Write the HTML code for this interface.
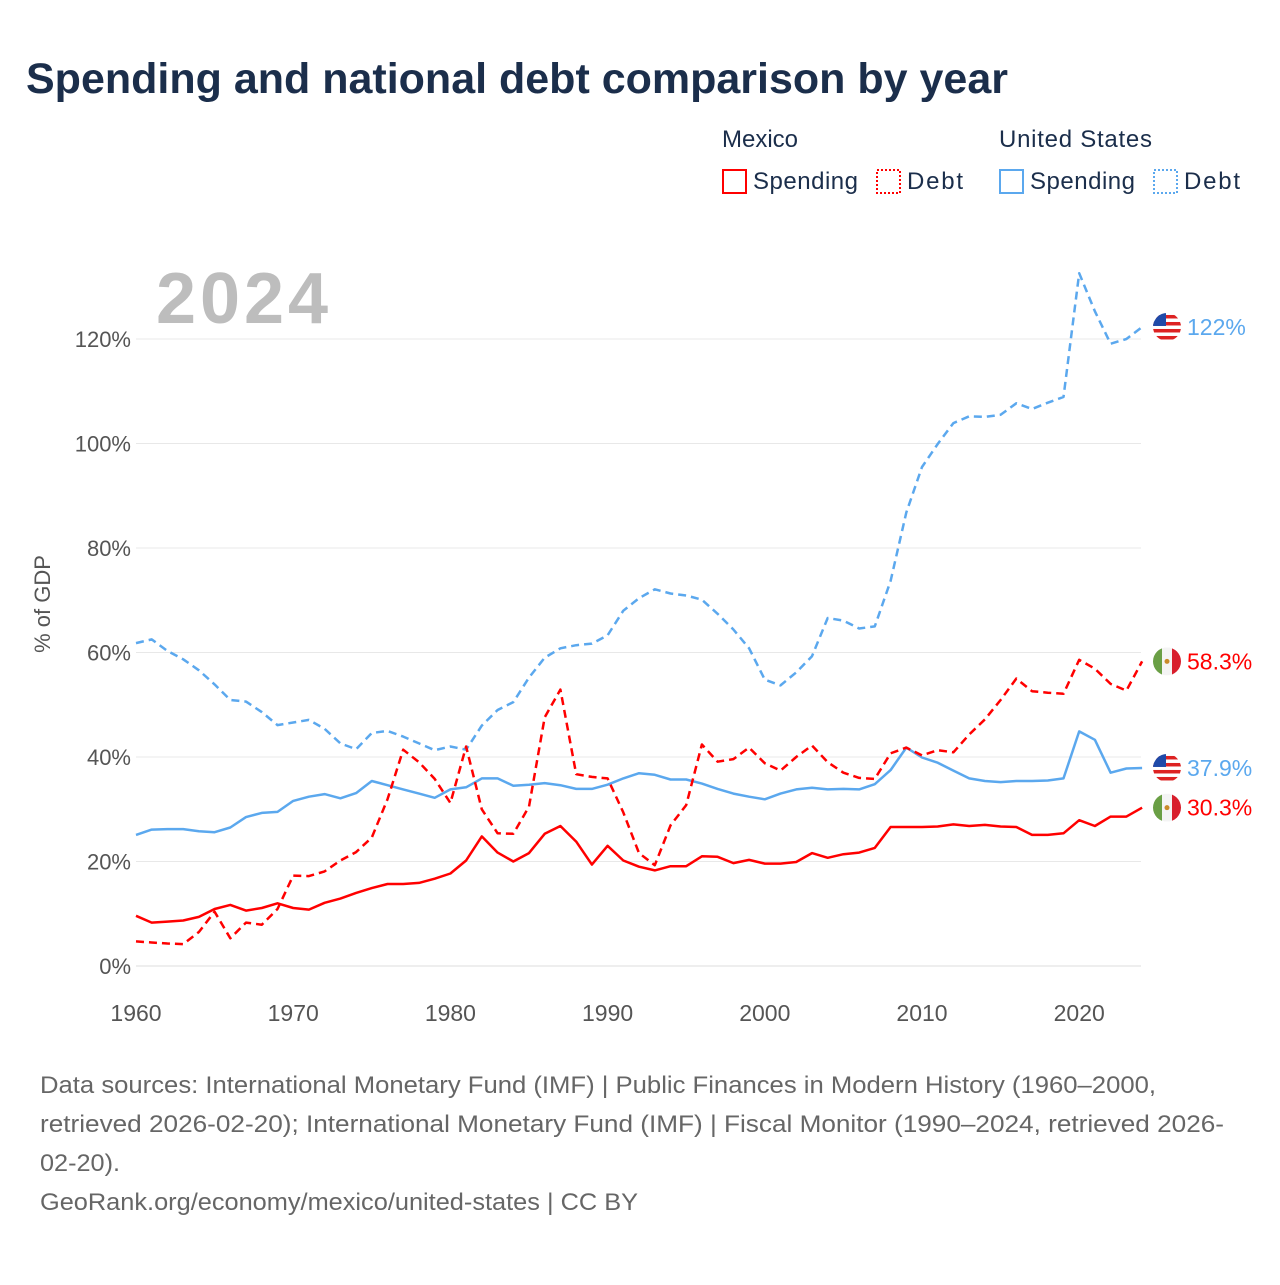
<!DOCTYPE html>
<html><head><meta charset="utf-8"><style>
body{margin:0;background:#fff;font-family:"Liberation Sans",sans-serif;}
svg text{font-family:"Liberation Sans",sans-serif;}
</style></head><body>
<svg id="chart" width="1280" height="1280" viewBox="0 0 1280 1280">
<text x="26" y="93" font-size="43" font-weight="bold" fill="#1b2e4b" textLength="982" lengthAdjust="spacingAndGlyphs">Spending and national debt comparison by year</text>
<g>
<text x="722" y="147" font-size="24" fill="#1b2e4b">Mexico</text>
<text x="999" y="147" font-size="24" fill="#1b2e4b" textLength="153">United States</text>
<rect x="723" y="170" width="23" height="23" fill="none" stroke="#f00" stroke-width="2"/>
<text x="753" y="189" font-size="24" fill="#1b2e4b" textLength="105">Spending</text>
<rect x="877" y="170" width="23" height="23" fill="none" stroke="#f00" stroke-width="2" stroke-dasharray="2,2"/>
<text x="907" y="189" font-size="24" fill="#1b2e4b" textLength="56">Debt</text>
<rect x="1000" y="170" width="23" height="23" fill="none" stroke="#5ba8ee" stroke-width="2"/>
<text x="1030" y="189" font-size="24" fill="#1b2e4b" textLength="105">Spending</text>
<rect x="1154" y="170" width="23" height="23" fill="none" stroke="#5ba8ee" stroke-width="2" stroke-dasharray="2,2"/>
<text x="1184" y="189" font-size="24" fill="#1b2e4b" textLength="56">Debt</text>
</g>
<text x="156" y="323" font-size="72" font-weight="bold" fill="#bdbdbd" textLength="172">2024</text>
<text transform="translate(50,604) rotate(-90)" text-anchor="middle" font-size="22" fill="#555">% of GDP</text>
<g id="grid"></g><g id="series"></g><g id="ends"></g>
<g font-size="24" fill="#666">
<text x="40" y="1093" textLength="1116" lengthAdjust="spacingAndGlyphs">Data sources: International Monetary Fund (IMF) | Public Finances in Modern History (1960–2000,</text>
<text x="40" y="1132" textLength="1184" lengthAdjust="spacingAndGlyphs">retrieved 2026-02-20); International Monetary Fund (IMF) | Fiscal Monitor (1990–2024, retrieved 2026-</text>
<text x="40" y="1171" textLength="80" lengthAdjust="spacingAndGlyphs">02-20).</text>
<text x="40" y="1210" textLength="598" lengthAdjust="spacingAndGlyphs">GeoRank.org/economy/mexico/united-states | CC BY</text>
</g>
</svg>
<script>
const years=[];for(let y=1960;y<=2024;y++)years.push(y);
const mxSpending=[9.6,8.3,8.5,8.7,9.4,10.9,11.7,10.6,11.1,12.0,11.1,10.8,12.1,12.9,14.0,14.9,15.7,15.7,15.9,16.7,17.7,20.2,24.8,21.7,20.0,21.6,25.3,26.8,23.8,19.4,23.0,20.2,19.0,18.3,19.1,19.1,21.0,20.9,19.7,20.3,19.6,19.6,19.9,21.6,20.7,21.4,21.7,22.6,26.6,26.6,26.6,26.7,27.1,26.8,27.0,26.7,26.6,25.1,25.1,25.4,27.9,26.8,28.6,28.6,30.3];
const mxDebt=[4.7,4.5,4.3,4.2,6.5,10.4,5.3,8.3,7.9,10.9,17.3,17.2,18.1,20.2,21.8,24.6,31.9,41.4,39.0,35.8,31.2,42.0,30.0,25.4,25.3,30.5,47.6,52.9,36.7,36.2,35.9,29.4,21.6,19.3,26.9,30.8,42.4,39.1,39.6,41.8,38.8,37.4,40.0,42.2,39.0,37.0,36.0,35.8,40.7,41.8,40.3,41.3,40.9,44.3,47.2,50.9,55.0,52.6,52.3,52.1,58.6,56.9,54.0,52.7,58.3];
const usSpending=[25.1,26.1,26.2,26.2,25.8,25.6,26.5,28.5,29.3,29.5,31.6,32.4,32.9,32.1,33.1,35.4,34.6,33.8,33.0,32.2,33.8,34.2,35.9,35.9,34.5,34.7,35.0,34.6,33.9,33.9,34.7,35.9,36.9,36.6,35.7,35.7,34.9,33.9,33.0,32.4,31.9,33.0,33.8,34.1,33.8,33.9,33.8,34.8,37.5,41.8,39.9,38.9,37.4,35.9,35.4,35.2,35.4,35.4,35.5,35.9,44.9,43.3,37.0,37.8,37.9];
const usDebt=[61.8,62.5,60.3,58.7,56.6,53.9,50.9,50.6,48.6,46.1,46.6,47.1,45.4,42.6,41.5,44.6,45.0,43.9,42.6,41.3,42.0,41.4,46.0,49.0,50.5,55.2,59.0,60.8,61.4,61.7,63.3,68.0,70.4,72.1,71.3,70.9,70.1,67.4,64.4,60.8,54.8,53.7,56.2,59.3,66.6,66.1,64.6,65.0,73.7,86.8,95.5,99.9,103.9,105.2,105.1,105.5,107.7,106.6,107.8,108.9,132.6,125.3,119.1,120.0,122.3];
const yTicks=[0,20,40,60,80,100,120];
const xTicks=[1960,1970,1980,1990,2000,2010,2020];
const endLabels=["30.3%","58.3%","37.9%","122%"];
const NS="http://www.w3.org/2000/svg";
const X=y=>136+(y-1960)*15.72;
const Y=v=>966-v*5.225;
function mk(tag,attrs,parent){const e=document.createElementNS(NS,tag);for(const k in attrs)e.setAttribute(k,attrs[k]);parent.appendChild(e);return e;}
const grid=document.getElementById('grid');
yTicks.forEach(t=>{
 const l=mk('line',{x1:136,x2:1141,y1:Y(t),y2:Y(t),stroke:t===0?'#ddd':'#e8e8e8','stroke-width':1},grid);
 
 
 const tx=mk('text',{x:131,y:Y(t)+8,'text-anchor':'end','font-size':22,fill:'#555'},grid);
 tx.textContent=t+'%';
 
 
});
xTicks.forEach(t=>{
 const tx=mk('text',{x:X(t),y:1021,'text-anchor':'middle','font-size':23,fill:'#555'},grid);
 tx.textContent=t;
 
 
});
const ser=document.getElementById('series');
function line(vals,color,dash,name){
 const d=vals.map((v,i)=>(i?'L':'M')+X(years[i]).toFixed(1)+','+Y(v).toFixed(1)).join('');
 const p=mk('path',{d:d,fill:'none',stroke:color,'stroke-width':2.5,'stroke-linejoin':'round'},ser);
 if(dash)p.setAttribute('stroke-dasharray','8,5');
 
 
}
line(usDebt,'#5ba8ee',true,'us-debt-line');
line(usSpending,'#5ba8ee',false,'us-spending-line');
line(mxDebt,'#f00',true,'mexico-debt-line');
line(mxSpending,'#f00',false,'mexico-spending-line');
const ends=document.getElementById('ends');
const last=[mxSpending,mxDebt,usSpending,usDebt].map(a=>a[a.length-1]);
const colors=['#f00','#f00','#5ba8ee','#5ba8ee'];
const isUS=[false,false,true,true];
last.forEach((v,i)=>{
 const cy=Y(v),cx=1167;
 const cp=mk('clipPath',{id:'flagclip'+i},ends);
 mk('circle',{cx:cx,cy:cy,r:14},cp);
 const g=mk('g',{'clip-path':'url(#flagclip'+i+')'},ends);
 
 
 if(isUS[i]){
  mk('rect',{x:cx-14,y:cy-14,width:28,height:28,fill:'#fff'},g);
  for(let s=0;s<4;s++)mk('rect',{x:cx-14,y:cy-12+s*7,width:28,height:3.5,fill:'#d22'},g);
  mk('rect',{x:cx-14,y:cy-14,width:13,height:13,fill:'#1f4aa8'},g);
 }else{
  mk('rect',{x:cx-14,y:cy-14,width:9,height:28,fill:'#6a9f45'},g);
  mk('rect',{x:cx-5,y:cy-14,width:10,height:28,fill:'#f4f4f4'},g);
  mk('rect',{x:cx+5,y:cy-14,width:9,height:28,fill:'#d81e2c'},g);
  mk('circle',{cx:cx,cy:cy,r:2.5,fill:'#c98a2a'},g);
 }
 const t=mk('text',{x:1187,y:cy+8,'font-size':23,fill:colors[i]},ends);
 t.textContent=endLabels[i];
 
 
});
</script>
</body></html>
